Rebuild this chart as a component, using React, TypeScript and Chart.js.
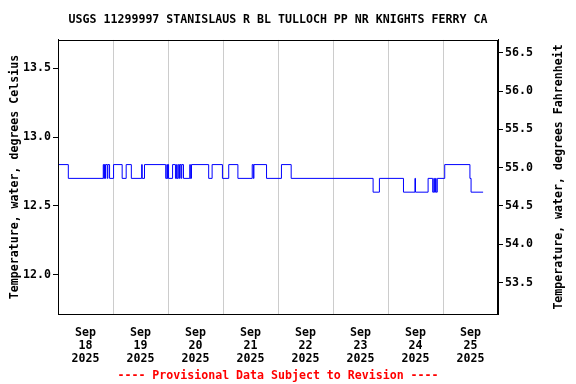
import React, { useEffect, useRef } from "react";
import { Chart, registerables } from "chart.js";

Chart.register(...registerables);

const TITLE = "USGS 11299997 STANISLAUS R BL TULLOCH PP NR KNIGHTS FERRY CA";
const FOOTER = "---- Provisional Data Subject to Revision ----";
const Y_LEFT_TITLE = "Temperature, water, degrees Celsius";
const Y_RIGHT_TITLE = "Temperature, water, degrees Fahrenheit";

// Start of x range: 2025-09-18 00:00, end 2025-09-26 00:00
const START_DAY = 18;
const DAYS = 8;
const MONTH_LABEL = "Sep";
const YEAR_LABEL = "2025";

// Change points of the stepped series ("day hh:mm") and the value from that time on
const times = [
  "18 00:00", "18 04:30", "18 19:45", "18 20:00", "18 20:15", "18 20:30", "18 20:45",
  "18 21:30", "18 21:45", "18 22:30", "19 00:15", "19 04:00", "19 05:45", "19 08:00",
  "19 12:30", "19 12:45", "19 13:45", "19 23:00", "19 23:30", "19 23:45", "20 00:00",
  "20 00:15", "20 02:00", "20 03:15", "20 03:45", "20 04:00", "20 04:30", "20 05:00",
  "20 05:15", "20 05:45", "20 06:00", "20 06:45", "20 09:30", "20 09:45", "20 10:15",
  "20 17:45", "20 19:15", "20 23:45", "21 02:30", "21 06:30", "21 12:45", "21 13:15",
  "21 13:30", "21 19:00", "22 01:30", "22 05:45", "23 17:30", "23 20:15", "24 06:45",
  "24 11:45", "24 12:00", "24 17:30", "24 19:30", "24 20:00", "24 20:15", "24 20:45",
  "24 21:00", "24 21:30", "25 00:45", "25 11:45", "25 12:15", "25 17:30",
];
const tempC = [
  12.8, 12.7, 12.8, 12.7, 12.8, 12.7, 12.8,
  12.7, 12.8, 12.7, 12.8, 12.7, 12.8, 12.7,
  12.8, 12.7, 12.8, 12.7, 12.8, 12.7, 12.8,
  12.7, 12.8, 12.7, 12.8, 12.7, 12.8, 12.7,
  12.8, 12.7, 12.8, 12.7, 12.8, 12.7, 12.8,
  12.7, 12.8, 12.7, 12.8, 12.7, 12.8, 12.7,
  12.8, 12.7, 12.8, 12.7, 12.6, 12.7, 12.6,
  12.7, 12.6, 12.7, 12.6, 12.7, 12.6, 12.7,
  12.6, 12.7, 12.8, 12.7, 12.6, 12.6,
];

const Y_MIN_C = 11.716;
const Y_MAX_C = 13.704;
const Y_STEP = 0.5;

const toF = (c: number) => c * 1.8 + 32;

function toHours(s: string): number {
  const [d, hm] = s.split(" ");
  const [h, m] = hm.split(":");
  return (parseInt(d, 10) - START_DAY) * 24 + parseInt(h, 10) + parseInt(m, 10) / 60;
}

const FONT_FAMILY = "'DejaVu Sans Mono', monospace";
const FONT = { family: FONT_FAMILY, size: 11.6, weight: "bold" as const };

const frame = {
  id: "frame",
  afterDraw(chart: any) {
    const { ctx, chartArea } = chart;
    ctx.save();
    ctx.strokeStyle = "#000";
    ctx.lineWidth = 1;
    ctx.strokeRect(
      Math.round(chartArea.left) + 0.5,
      Math.round(chartArea.top) + 0.5,
      Math.round(chartArea.right - chartArea.left) - 1,
      Math.round(chartArea.bottom - chartArea.top)
    );
    // right axis title, reading bottom-to-top like the left one
    ctx.translate(chart.width - 17, (chartArea.top + chartArea.bottom) / 2);
    ctx.rotate(-Math.PI / 2);
    ctx.fillStyle = "#000";
    ctx.font = `bold ${FONT.size}px ${FONT_FAMILY}`;
    ctx.textAlign = "center";
    ctx.textBaseline = "middle";
    ctx.fillText(Y_RIGHT_TITLE, 0, 0);
    ctx.restore();
  },
};

export default function App() {
  const ref = useRef<HTMLCanvasElement | null>(null);

  useEffect(() => {
    document.body.style.margin = "0";
    const points = times.map((t, i) => ({ x: toHours(t), y: tempC[i] }));
    const chart = new Chart(ref.current as HTMLCanvasElement, {
      type: "line",
      data: {
        datasets: [
          {
            data: points,
            borderColor: "#0000ff",
            borderWidth: 1,
            pointRadius: 0,
            stepped: true,
            fill: false,
            yAxisID: "y",
          },
        ],
      },
      options: {
        animation: false,
        responsive: false,
        maintainAspectRatio: false,
        layout: { padding: 0 },
        plugins: {
          legend: { display: false },
          tooltip: { enabled: false },
          title: {
            display: true,
            text: TITLE,
            color: "#000",
            font: FONT,
            fullSize: false,
            padding: { top: 13, bottom: 13 },
          },
          subtitle: {
            display: true,
            text: FOOTER,
            position: "bottom",
            color: "#ff0000",
            font: FONT,
            fullSize: false,
            padding: { top: 5, bottom: 1 },
          },
        },
        scales: {
          x: {
            type: "linear",
            min: 0,
            max: DAYS * 24,
            afterFit: (s: any) => {
              s.height = 50;
            },
            border: { display: true, color: "#000" },
            grid: {
              drawTicks: false,
              color: (c: any) =>
                c.tick && c.tick.value % 24 === 0 ? "#cccccc" : "rgba(0,0,0,0)",
            },
            ticks: {
              stepSize: 12,
              autoSkip: false,
              maxRotation: 0,
              minRotation: 0,
              padding: 12,
              color: "#000",
              font: { ...FONT, lineHeight: 1.12 },
              callback: (v: any) => {
                const n = Number(v);
                if (n % 24 !== 12) return "";
                return [MONTH_LABEL, String(START_DAY + Math.floor(n / 24)), YEAR_LABEL];
              },
            },
          },
          y: {
            type: "linear",
            position: "left",
            min: Y_MIN_C,
            max: Y_MAX_C,
            afterFit: (s: any) => {
              s.width = 58;
            },
            border: { display: true, color: "#000" },
            grid: { drawOnChartArea: false, drawTicks: true, tickLength: 5, color: "#000" },
            ticks: {
              stepSize: Y_STEP,
              includeBounds: false,
              padding: 2,
              color: "#000",
              font: FONT,
              callback: (v: any) => Number(v).toFixed(1),
            },
            title: {
              display: true,
              text: Y_LEFT_TITLE,
              color: "#000",
              font: FONT,
              padding: { top: 8, bottom: 0 },
            },
          },
          yF: {
            type: "linear",
            position: "right",
            min: toF(Y_MIN_C),
            max: toF(Y_MAX_C),
            afterFit: (s: any) => {
              s.width = 78;
            },
            border: { display: true, color: "#000" },
            grid: { drawOnChartArea: false, drawTicks: true, tickLength: 5, color: "#000" },
            ticks: {
              stepSize: Y_STEP,
              includeBounds: false,
              padding: 2,
              color: "#000",
              font: FONT,
              callback: (v: any) => Number(v).toFixed(1),
            },
            title: { display: false },
          },
        },
      },
      plugins: [frame],
    });
    return () => chart.destroy();
  }, []);

  return (
    <div style={{ width: 576, height: 384 }}>
      <canvas ref={ref} width={576} height={384} style={{ width: 576, height: 384 }} />
    </div>
  );
}
